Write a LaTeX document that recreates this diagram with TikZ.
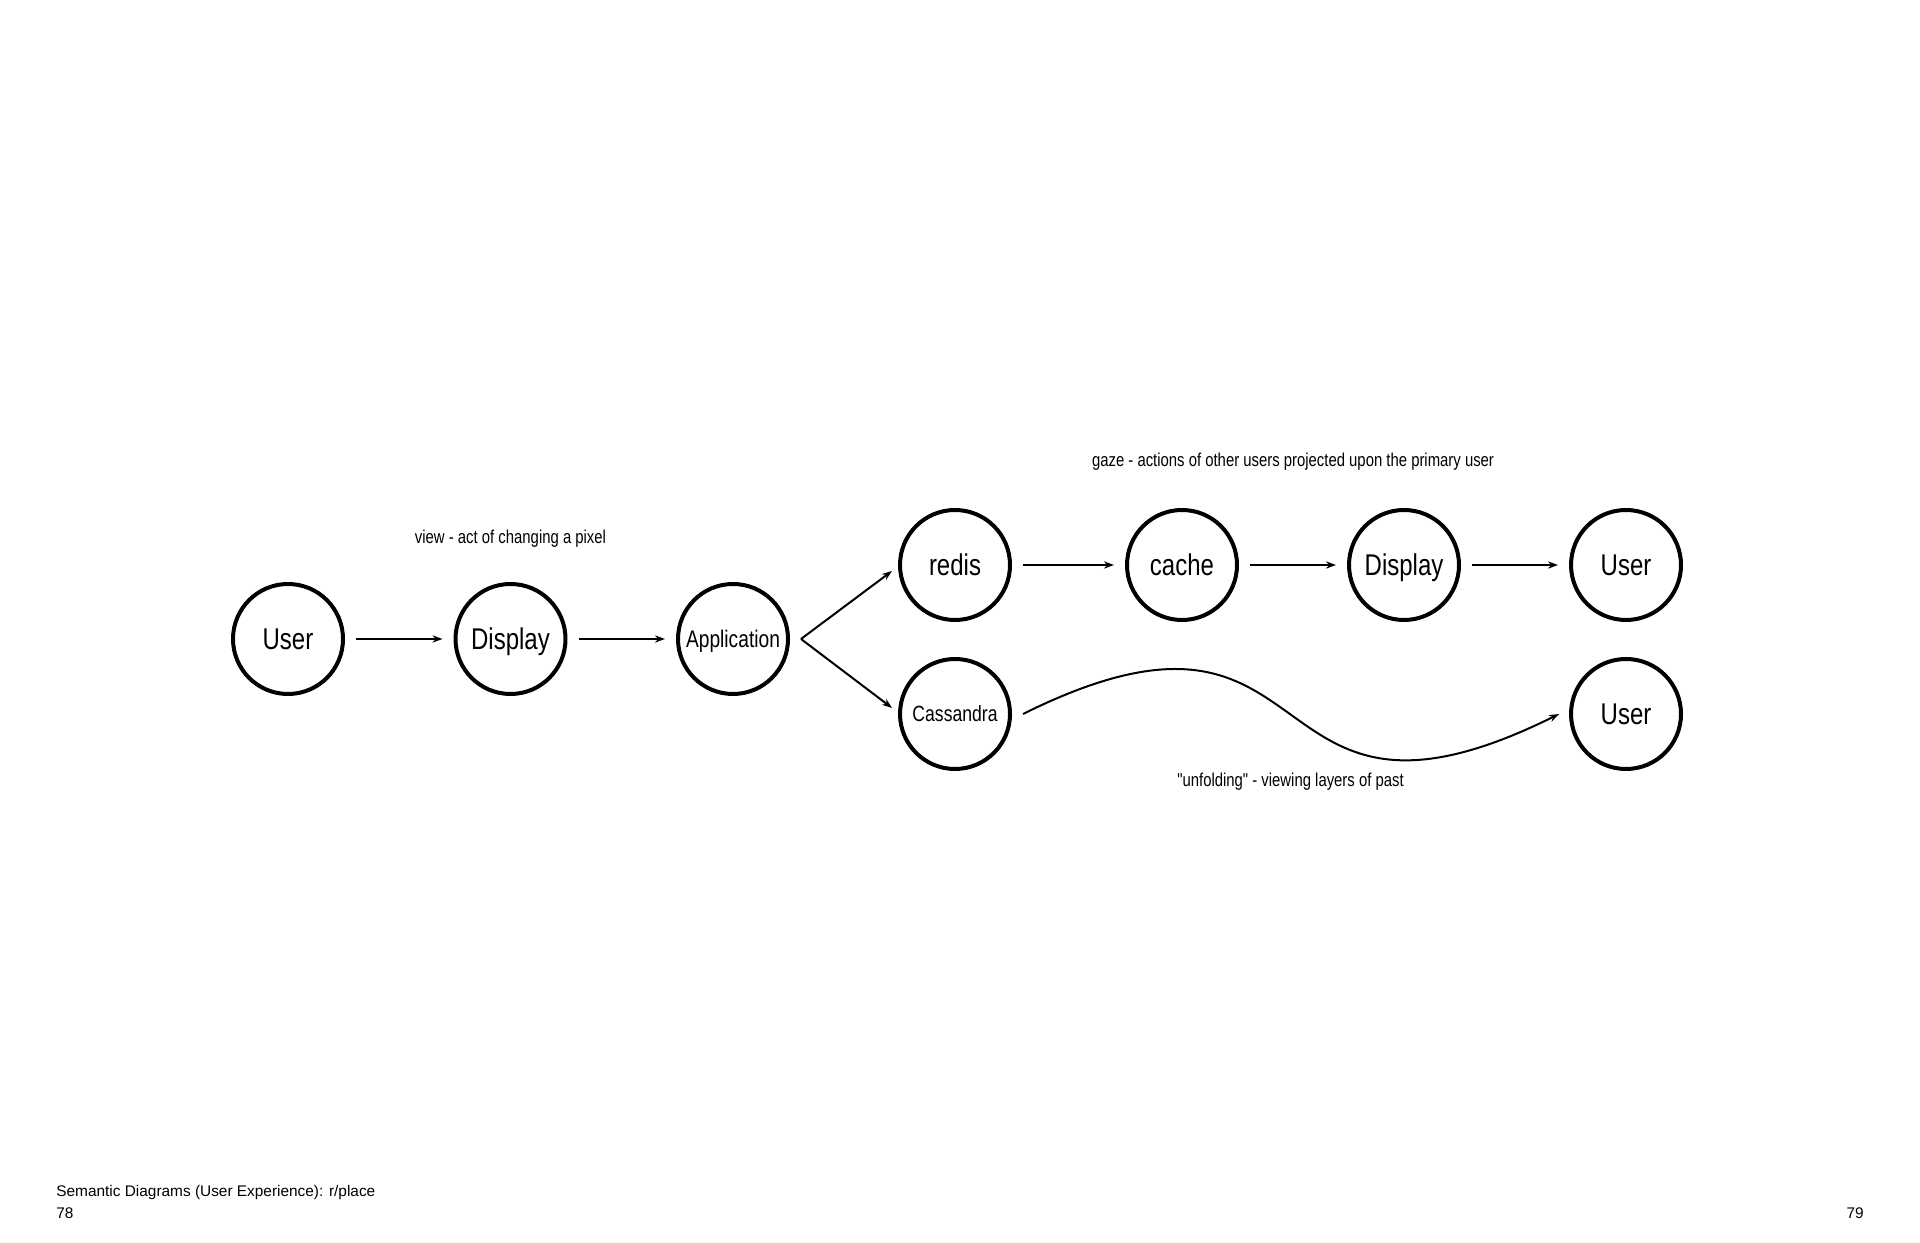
\documentclass[tikz,border=0pt]{standalone}
\usepackage{fontspec}
\setmainfont{Liberation Sans}
\newfontfamily\narrowfont{Liberation Sans}[FakeStretch=0.8]
\usetikzlibrary{arrows.meta,positioning,calc}

\begin{document}
\begin{tikzpicture}[x=0.5pt,y=0.5pt,
  stage/.style={circle,draw=black,line width=2pt,minimum size=55pt,inner sep=0pt,outer sep=0pt,text height=10.7pt,text depth=0pt,font=\narrowfont\fontsize{15}{18}\selectfont},
  smallstage/.style={stage,text height=8.6pt,font=\narrowfont\fontsize{12}{14}\selectfont},
  flow/.style={-{Stealth[length=5pt,width=3.6pt]},line width=1pt,shorten <=6.5pt,shorten >=6.5pt},
  note/.style={font=\narrowfont\fontsize{9.3}{11}\selectfont},
  folio/.style={font=\fontsize{7.7}{9}\selectfont,inner sep=0pt}
]
\useasboundingbox (0,0) rectangle (1920,1242);
\node[stage] (user) at (288,603) {User};
\node[stage,right=56.25pt of user] (display) {Display};
\node[smallstage,right=56.25pt of display] (app) {Application};
\node[stage] (redis) at ([shift={(222,74)}]app) {redis};
\node[stage,right=58.5pt of redis] (cache) {cache};
\node[stage,right=56pt of cache] (display2) {Display};
\node[stage,right=56pt of display2] (user2) {User};
\node[smallstage,text height=7.9pt,font=\narrowfont\fontsize{11}{13}\selectfont] (cass) at ([shift={(222,-75)}]app) {Cassandra};
\node[stage] (user3) at (user2 |- cass) {User};
\coordinate (fork) at ([xshift=6.5pt]app.east);
\draw[flow] (user) -- (display);
\draw[flow] (display) -- (app);
\draw[flow,shorten <=0pt,shorten >=5pt] (fork) -- (redis.west);
\draw[flow,shorten <=0pt,shorten >=5pt] (fork) -- (cass.west);
\draw[flow] (redis) -- (cache);
\draw[flow] (cache) -- (display2);
\draw[flow] (display2) -- (user2);
\draw[flow,shorten <=0pt,shorten >=0pt] ([xshift=6.5pt]cass.east) .. controls +(314,156) and +(-314,-156) .. ([xshift=-6pt]user3.west);
\node[note] (viewnote) at ([yshift=50pt]display) {view - act of changing a pixel};
\node[note] (gazenote) at ($(cache)!0.5!(display2)+(0,103)$) {gaze - actions of other users projected upon the primary user};
\node[note] (foldnote) at ($(cass)!0.5!(user3)+(0,-68)$) {"unfolding" - viewing layers of past};
\node[folio,anchor=base west] (caption) at (56,46) {Semantic Diagrams (User Experience): r/place};
\node[folio,anchor=base west] (leftpage) at (56,24) {78};
\node[folio,anchor=base east] (rightpage) at (1864,24) {79};
\end{tikzpicture}
\end{document}
